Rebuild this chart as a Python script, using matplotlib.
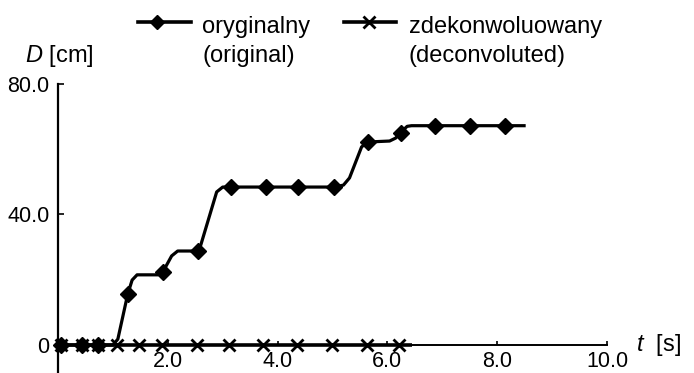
import matplotlib
matplotlib.use("Agg")
import matplotlib.pyplot as plt
from matplotlib.lines import Line2D

plt.rcParams['font.family'] = ['Liberation Sans', 'DejaVu Sans']
plt.rcParams['mathtext.fontset'] = 'custom'
plt.rcParams['mathtext.rm'] = 'Liberation Sans'
plt.rcParams['mathtext.it'] = 'Liberation Sans:italic'

# original displacement record: smooth trace and sampled points
orig_curve_t = [0.0, 1.0, 1.09, 1.27, 1.35, 1.44, 1.82, 1.91, 2.07, 2.18,
                2.53, 2.60, 2.89, 3.0, 5.04, 5.20, 5.31, 5.53, 5.64, 6.04,
                6.15, 6.25, 6.36, 6.44, 8.49]
orig_curve_d = [0.0, 0.0, 1.8, 15.6, 19.9, 21.5, 21.5, 22.4, 27.3, 28.8,
                28.8, 30.6, 46.9, 48.4, 48.4, 49.0, 51.2, 60.7, 62.2, 62.5,
                63.4, 65.3, 67.0, 67.2, 67.2]
orig_t = [0.05, 0.44, 0.73, 1.27, 1.91, 2.55, 3.16, 3.78, 4.38, 5.02,
          5.64, 6.24, 6.87, 7.51, 8.15]
orig_d = [0.0, 0.0, 0.0, 15.6, 22.4, 28.8, 48.4, 48.4, 48.4, 48.4,
          62.2, 65.0, 67.2, 67.2, 67.2]

# deconvoluted record
decon_line_t = [0.0, 6.44]
decon_line_d = [0.0, 0.0]
decon_t = [0.05, 0.44, 0.73, 1.07, 1.47, 1.89, 2.53, 3.11, 3.73, 4.36,
           5.0, 5.62, 6.22]
decon_d = [0.0] * len(decon_t)

x_ticks = [2, 4, 6, 8, 10]
x_labels = ["2.0", "4.0", "6.0", "8.0", "10.0"]
y_ticks = [0, 40, 80]
y_labels = ["0", "40.0", "80.0"]

fig = plt.figure(figsize=(6.94, 3.73), dpi=100)
ax = fig.add_axes([0.0836, 0.0, 0.791, 0.775])

ax.plot(decon_line_t, decon_line_d, color='black', lw=2.6,
        solid_capstyle='butt', clip_on=False, zorder=3)
ax.plot(decon_t, decon_d, ls='none', marker='x', ms=9, mew=2.0,
        color='black', clip_on=False, zorder=4)
ax.plot(orig_curve_t, orig_curve_d, color='black', lw=2.3,
        solid_joinstyle='round', clip_on=False, zorder=5)
ax.plot(orig_t, orig_d, ls='none', marker='D', ms=8, color='black',
        clip_on=False, zorder=6)

ax.set_xlim(0, 10)
ax.set_ylim(-8.58, 80)
for side in ['top', 'right']:
    ax.spines[side].set_visible(False)
ax.spines['bottom'].set_position(('data', 0))
ax.spines['bottom'].set_linewidth(1.4)
ax.spines['left'].set_linewidth(1.6)

ax.set_xticks(x_ticks)
ax.set_xticklabels(x_labels)
ax.set_yticks(y_ticks)
ax.set_yticklabels(y_labels)
ax.tick_params(axis='x', direction='in', length=3, width=1.2, pad=4,
               labelsize=15.5)
ax.tick_params(axis='y', direction='in', length=4, width=1.2, pad=6,
               labelsize=15.5)

# axis titles
fig.text(25 / 694, 1 - 62 / 373, "$D$ [cm]", fontsize=17,
         ha='left', va='baseline')
fig.text(636 / 694, 1 - 345 / 373, "$t$  [s]", fontsize=17,
         ha='left', va='center')

# legend drawn above the plot
handle_y = 1 - 22 / 373
fig.add_artist(Line2D([138 / 694, 157 / 694, 191 / 694],
                      [handle_y] * 3, transform=fig.transFigure,
                      color='black', lw=2.6, marker='D', ms=7,
                      markevery=[1]))
fig.add_artist(Line2D([344 / 694, 369 / 694, 396 / 694],
                      [handle_y] * 3, transform=fig.transFigure,
                      color='black', lw=2.6, marker='x', ms=8, mew=2,
                      markevery=[1]))
fig.text(202 / 694, 1 - 33 / 373, "oryginalny", fontsize=17, va='baseline')
fig.text(202 / 694, 1 - 62 / 373, "(original)", fontsize=17, va='baseline')
fig.text(409 / 694, 1 - 33 / 373, "zdekonwoluowany", fontsize=17,
         va='baseline')
fig.text(409 / 694, 1 - 62 / 373, "(deconvoluted)", fontsize=17,
         va='baseline')

fig.savefig("out.png", dpi=100)
plt.close(fig)
